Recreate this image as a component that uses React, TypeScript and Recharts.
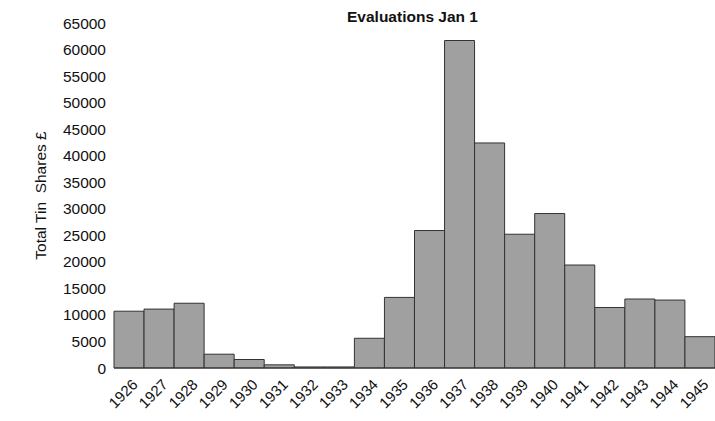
import React from 'react';
import { BarChart, Bar, XAxis, YAxis } from 'recharts';

const years = [
    '1926', '1927', '1928', '1929', '1930', '1931', '1932', '1933', '1934', '1935',
    '1936', '1937', '1938', '1939', '1940', '1941', '1942', '1943', '1944', '1945',
];

const totals = [
    10700, 11100, 12200, 2600, 1600, 600, 200, 200, 5600, 13300,
    25900, 61700, 42400, 25200, 29100, 19400, 11400, 13000, 12800, 5900,
];

const yTicks = [0, 5000, 10000, 15000, 20000, 25000, 30000, 35000, 40000, 45000, 50000, 55000, 60000, 65000];

const data = years.map((year, i) => ({ year, total: totals[i] }));

const FONT = '"Liberation Sans", Arial, Helvetica, sans-serif';

const YLabel = (props: any) => {
    const vb = props.viewBox || {};
    const cx = 40;
    const cy = vb.y + vb.height / 2;
    return (
        <text
            x={cx}
            y={cy}
            transform={`rotate(-90 ${cx} ${cy})`}
            textAnchor="middle"
            dominantBaseline="central"
            fontSize={15.5}
            fontFamily={FONT}
            fill="#111"
            style={{ whiteSpace: 'pre' }}
        >
            {'Total Tin  Shares £'}
        </text>
    );
};

const App: React.FC = () => {
    return (
        <div style={{ position: 'absolute', left: 0, top: 0, width: 715, height: 421, background: '#fff' }}>
            <div
                style={{
                    position: 'absolute',
                    left: 347,
                    top: 7,
                    fontFamily: FONT,
                    fontWeight: 'bold',
                    fontSize: 15.5,
                    color: '#111',
                    whiteSpace: 'pre',
                    lineHeight: '20px',
                }}
            >
                Evaluations Jan 1
            </div>
            <BarChart
                width={715}
                height={421}
                data={data}
                margin={{ top: 23, right: 0, left: 0, bottom: 0 }}
                barCategoryGap={0}
            >
                <XAxis
                    dataKey="year"
                    interval={0}
                    height={53}
                    tickLine={false}
                    axisLine={{ stroke: '#333' }}
                    angle={-45}
                    textAnchor="end"
                    tick={{ fontSize: 15, fill: '#111', fontFamily: FONT, dx: 2, dy: 2 }}
                />
                <YAxis
                    domain={[0, 65000]}
                    ticks={yTicks}
                    interval={0}
                    width={114}
                    tickLine={false}
                    axisLine={false}
                    tick={{ fontSize: 15.5, fill: '#111', fontFamily: FONT }}
                    label={<YLabel />}
                />
                <Bar
                    dataKey="total"
                    fill="#a0a0a0"
                    stroke="#333"
                    strokeWidth={1}
                    isAnimationActive={false}
                />
            </BarChart>
        </div>
    );
};

export default App;
